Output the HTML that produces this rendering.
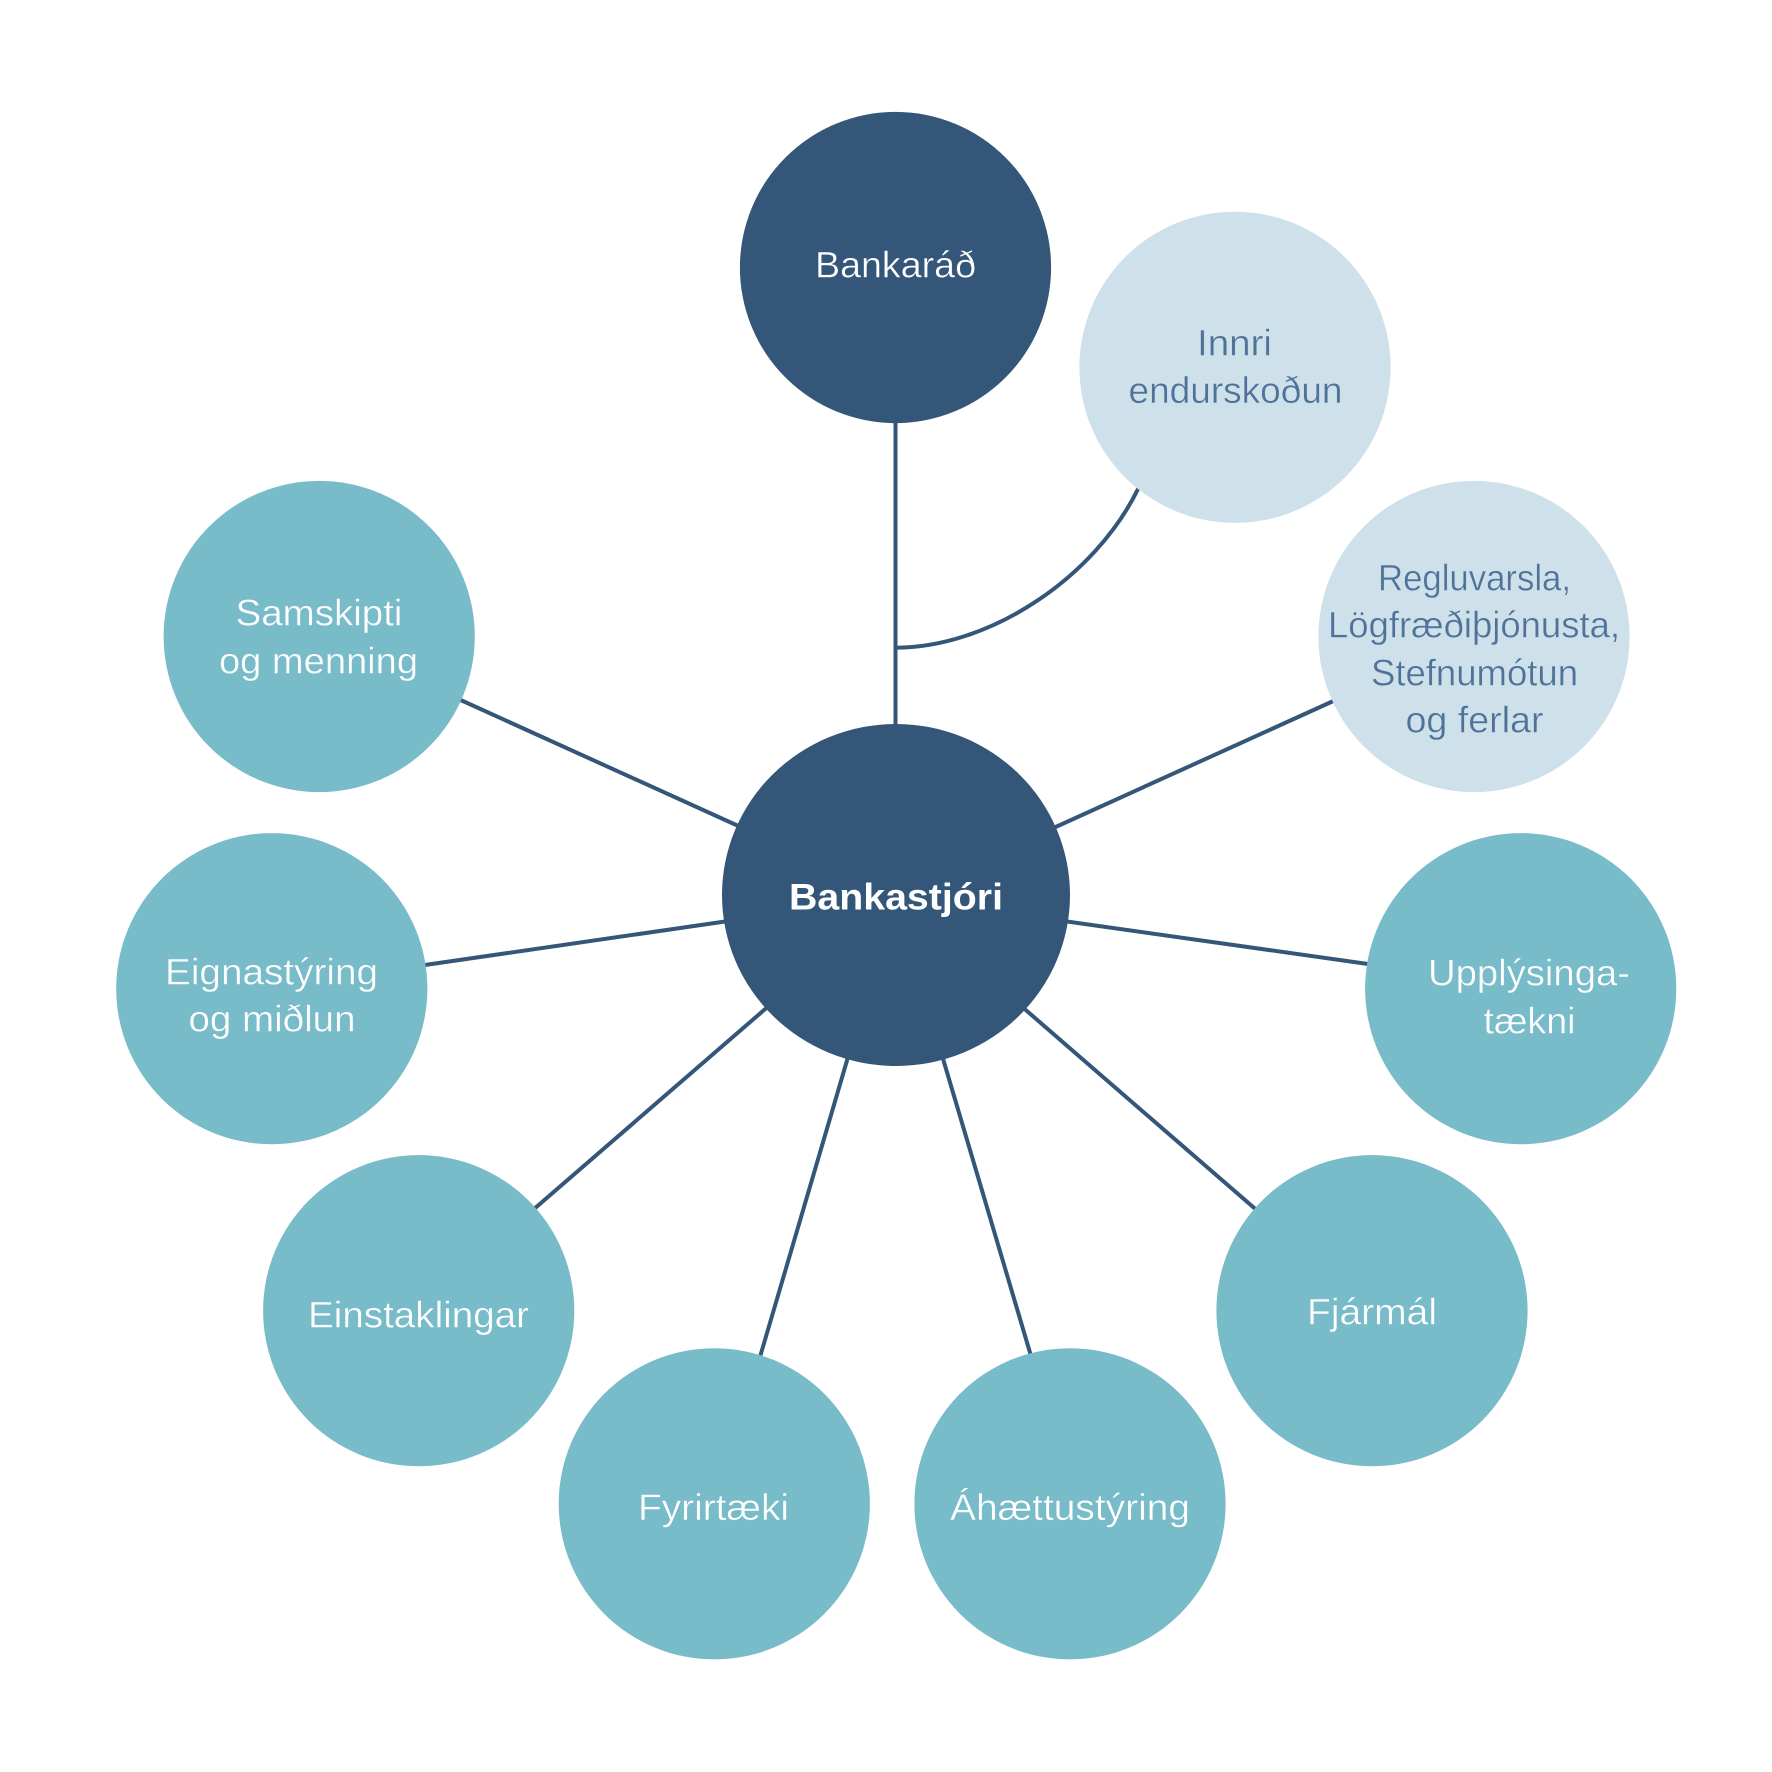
<!DOCTYPE html>
<html lang="is">
<head>
<meta charset="utf-8">
<title>Skipurit</title>
<style>
html,body{margin:0;padding:0;background:#fff;width:1772px;height:1772px;overflow:hidden}
svg{display:block}
text{font-family:"Liberation Sans",sans-serif;font-size:37px}
.w{fill:#fff;stroke:#78bbc9;stroke-width:.4px}
.d{fill:#fff;stroke:#335679;stroke-width:.4px}
.b{fill:#4f7299;stroke:#cee0ea;stroke-width:.4px}
</style>
</head>
<body>
<svg xmlns="http://www.w3.org/2000/svg" width="1772" height="1772" viewBox="0 0 1772 1772">
<rect width="1772" height="1772" fill="#fff"/>
<g stroke="#335679" stroke-width="4" fill="none">
<line x1="895.5" y1="415" x2="895.5" y2="735"/>
<path d="M895.5 647.7C990.5 647.7 1095 577 1138 489L1141 484"/>
<line x1="1049" y1="830" x2="1340" y2="698"/>
<line x1="745" y1="829" x2="454" y2="697"/>
<line x1="732" y1="920.5" x2="418" y2="966"/>
<line x1="1060" y1="920.5" x2="1375" y2="965"/>
<line x1="771" y1="1004" x2="530" y2="1212.5"/>
<line x1="1020" y1="1005" x2="1260" y2="1213"/>
<line x1="849.5" y1="1052" x2="758.5" y2="1362"/>
<line x1="941" y1="1052" x2="1032.5" y2="1361"/>
</g>
<ellipse cx="896" cy="895" rx="174" ry="171" fill="#335679"/>
<circle cx="895.5" cy="267.5" r="155.6" fill="#335679"/>
<circle cx="1235" cy="367.3" r="155.6" fill="#cee0ea"/>
<circle cx="1474" cy="636.5" r="155.6" fill="#cee0ea"/>
<g fill="#78bbc9">
<circle cx="1520.7" cy="988.7" r="155.6"/>
<circle cx="1372" cy="1310.7" r="155.6"/>
<circle cx="1070" cy="1503.8" r="155.6"/>
<circle cx="714.3" cy="1503.8" r="155.6"/>
<circle cx="418.7" cy="1310.7" r="155.6"/>
<circle cx="271.8" cy="988.7" r="155.6"/>
<circle cx="319.2" cy="636.5" r="155.6"/>
</g>
<text class="d" x="815" y="277.3" textLength="161" lengthAdjust="spacingAndGlyphs">Bankaráð</text>
<text class="b" x="1197" y="355.4" textLength="75" lengthAdjust="spacingAndGlyphs">Innri</text>
<text class="b" x="1128.5" y="402.8" textLength="214" lengthAdjust="spacingAndGlyphs">endurskoðun</text>
<text class="b" x="1378" y="590.7" textLength="193" lengthAdjust="spacingAndGlyphs">Regluvarsla,</text>
<text class="b" x="1328" y="637.7" textLength="292" lengthAdjust="spacingAndGlyphs">Lögfræðiþjónusta,</text>
<text class="b" x="1371" y="685.7" textLength="207" lengthAdjust="spacingAndGlyphs">Stefnumótun</text>
<text class="b" x="1405.5" y="732.7" textLength="138" lengthAdjust="spacingAndGlyphs">og ferlar</text>
<text class="w" x="235.5" y="625.7" textLength="167" lengthAdjust="spacingAndGlyphs">Samskipti</text>
<text class="w" x="219" y="673.3" textLength="199" lengthAdjust="spacingAndGlyphs">og menning</text>
<text x="789" y="909.3" textLength="214" lengthAdjust="spacingAndGlyphs" font-weight="700" fill="#fff">Bankastjóri</text>
<text class="w" x="165" y="984.3" textLength="213" lengthAdjust="spacingAndGlyphs">Eignastýring</text>
<text class="w" x="188.5" y="1031.7" textLength="167" lengthAdjust="spacingAndGlyphs">og miðlun</text>
<text class="w" x="1428" y="985.7" textLength="202" lengthAdjust="spacingAndGlyphs">Upplýsinga-</text>
<text class="w" x="1483.5" y="1033.3" textLength="92" lengthAdjust="spacingAndGlyphs">tækni</text>
<text class="w" x="308" y="1327.5" textLength="221" lengthAdjust="spacingAndGlyphs">Einstaklingar</text>
<text class="w" x="1307" y="1324.5" textLength="130" lengthAdjust="spacingAndGlyphs">Fjármál</text>
<text class="w" x="638" y="1520" textLength="151" lengthAdjust="spacingAndGlyphs">Fyrirtæki</text>
<text class="w" x="950" y="1520" textLength="240" lengthAdjust="spacingAndGlyphs">Áhættustýring</text>
</svg>
</body>
</html>
